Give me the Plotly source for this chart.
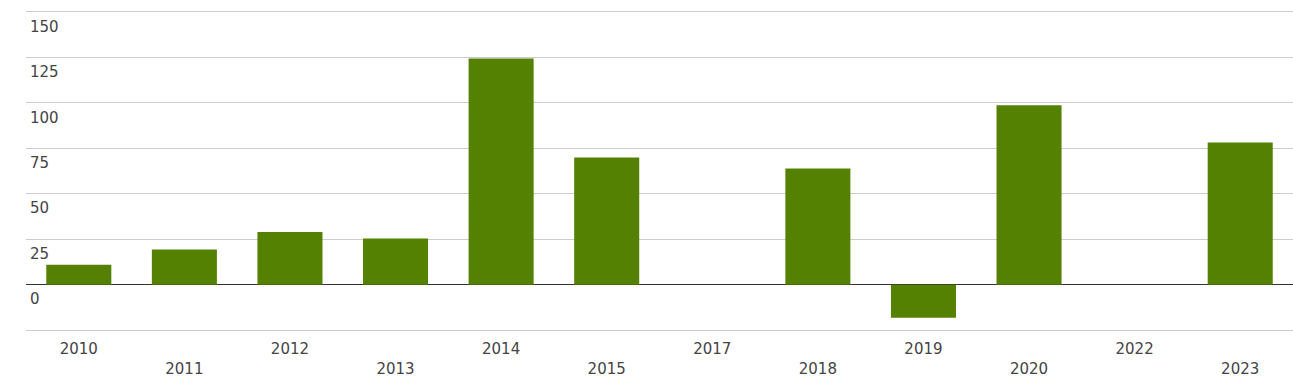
import plotly.graph_objects as go

years = ["2010", "2011", "2012", "2013", "2014", "2015", "2017", "2018", "2019", "2020", "2022", "2023"]
values = [11.0, 19.3, 29.0, 25.4, 124.4, 69.9, 0, 63.9, -18.2, 98.6, 0, 78.2]
y_ticks = [-25, 0, 25, 50, 75, 100, 125, 150]
y_tick_text = ["", "0", "25", "50", "75", "100", "125", "150"]

x_tick_text = [y if i % 2 == 0 else "<br>" + y for i, y in enumerate(years)]

fig = go.Figure(go.Bar(x=years, y=values, marker=dict(color="#548102", line=dict(width=0)),
                       width=0.616))

fig.update_layout(
    width=1293, height=384,
    margin=dict(l=26, r=0, t=10, b=52),
    paper_bgcolor="white", plot_bgcolor="white",
    showlegend=False,
    font=dict(family="DejaVu Sans", size=15, color="#444444"),
)
fig.update_xaxes(type="category", tickmode="array", tickvals=years, ticktext=x_tick_text,
                 range=[-0.5, len(years) - 0.5], autorange=False,
                 showgrid=False, ticks="", showline=False, ticklabelstandoff=6,
                 tickfont=dict(size=15, color="#444444"))
fig.update_yaxes(range=[-26, 151], autorange=False, tickmode="array", tickvals=y_ticks, ticktext=y_tick_text,
                 showgrid=True, gridcolor="#cccccc", gridwidth=1,
                 zeroline=True, zerolinecolor="#333333", zerolinewidth=1,
                 ticklabelposition="inside bottom", ticklabelshift=4, ticklabelstandoff=1,
                 ticks="", showline=False,
                 tickfont=dict(size=15, color="#444444"))

fig.write_html("out.html")
